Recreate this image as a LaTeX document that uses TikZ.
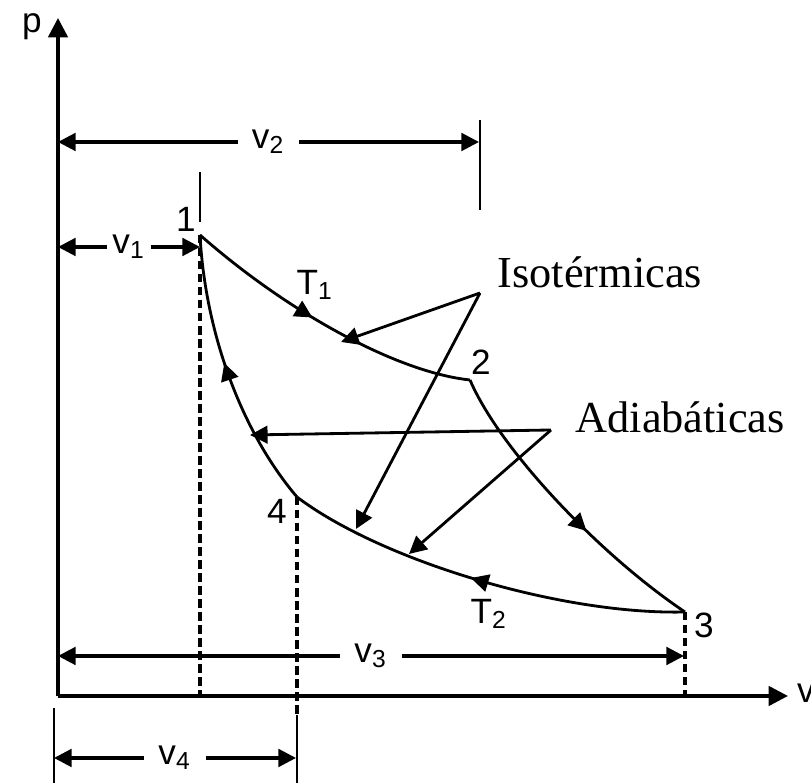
\documentclass[tikz,border=0pt]{standalone}
\usepackage{fontspec}
\setmainfont{Liberation Serif}
\setsansfont{Liberation Sans}
\usetikzlibrary{arrows.meta, decorations.markings}

\begin{document}
\begin{tikzpicture}[x=0.01cm, y=-0.01cm,
  axis/.style={line width=1pt, -{Triangle[length=5.5pt, width=5.5pt]}},
  dimarr/.style={line width=0.9pt,
                 {Triangle[length=5pt, width=5pt]}-{Triangle[length=5pt, width=5pt]}},
  tick/.style={line width=0.85pt},
  guide/.style={line width=0.9pt, dash pattern=on 2.4pt off 1.3pt},
  proc/.style={line width=0.8pt},
  midarrow/.style={postaction={decorate}, decoration={markings,
                   mark=at position #1 with {\arrow{Triangle[length=5pt, width=5pt]}}}},
  ptr/.style={line width=0.8pt, -{Triangle[length=5pt, width=5pt]}},
  lbl/.style={font=\fontsize{10}{11}\sffamily, inner sep=1pt},
  dimlbl/.style={lbl, midway, fill=white, inner xsep=4pt},
  txt/.style={font=\fontsize{12.6}{14}\selectfont, inner sep=0pt}
]
\useasboundingbox (0,0) rectangle (811,783);

%% --- STATES ---
\coordinate (O) at (58,696);
\coordinate (P1) at (200,235);
\coordinate (P2) at (470,380);
\coordinate (P3) at (685,612);
\coordinate (P4) at (297,497);

%% --- AXES ---
\coordinate (ptop) at (58,18);
\coordinate (vend) at (788,696);
\draw[axis] (O) -- (ptop);
\draw[axis] (O) -- (vend);
\node[lbl] (lp) at (32,27) {p};
\node[lbl, anchor=west] (lv) at (793,693) {v};

%% --- CYCLE ---
\draw[proc, midarrow=0.45] (P1) .. controls (285,310) and (395,372) .. (P2);
\draw[proc, midarrow=0.6] (P2) .. controls (500,450) and (600,555) .. (P3);
\draw[proc, midarrow=0.53] (P3) .. controls (560,615) and (380,560) .. (P4);
\draw[proc, midarrow=0.54] (P4) .. controls (240,430) and (205,330) .. (P1);

\node[lbl] (n1) at (186,219) {1};
\node[lbl] (n2) at (481,362) {2};
\node[lbl] (n3) at (704,625) {3};
\node[lbl] (n4) at (277,511) {4};
\node[lbl] (t1) at (315,285) {T\textsubscript{1}};
\node[lbl] (t2) at (489,614) {T\textsubscript{2}};

%% --- GUIDES ---
\coordinate (g1) at (200,696);
\coordinate (g3) at (685,696);
\coordinate (g4) at (297,715);
\coordinate (g4b) at (297,783);
\draw[guide] (P1) -- (g1);
\draw[guide] (P3) -- (g3);
\draw[guide] (P4) -- (g4);
\draw[tick] (g4) -- (g4b);

%% --- DIMENSIONS ---
\coordinate (t1a) at (200,172);
\coordinate (t1b) at (200,222);
\draw[tick] (t1a) -- (t1b);
\coordinate (t2a) at (480,120);
\coordinate (t2b) at (480,210);
\draw[tick] (t2a) -- (t2b);
\coordinate (t4a) at (54,708);
\coordinate (t4b) at (54,783);
\draw[tick] (t4a) -- (t4b);

\coordinate (v1a) at (58,247);
\coordinate (v1b) at (200,247);
\draw[dimarr] (v1a) -- (v1b) node[dimlbl, inner xsep=1.5pt] (lv1) {v\textsubscript{1}};
\coordinate (v2a) at (58,142);
\coordinate (v2b) at (479,142);
\draw[dimarr] (v2a) -- (v2b) node[dimlbl] (lv2) {v\textsubscript{2}};
\coordinate (v3a) at (58,656);
\coordinate (v3b) at (684,656);
\draw[dimarr] (v3a) -- (v3b) node[dimlbl] (lv3) {v\textsubscript{3}};
\coordinate (v4a) at (54,758);
\coordinate (v4b) at (296,758);
\draw[dimarr] (v4a) -- (v4b) node[dimlbl] (lv4) {v\textsubscript{4}};

%% --- POINTERS ---
\node[txt, anchor=base west] (iso) at (497,288) {Isotérmicas};
\node[txt, anchor=base west] (adia) at (575,433) {Adiabáticas};
\coordinate (isoapex) at (480,293);
\coordinate (adiapex) at (551,430);
\coordinate (isoA) at (341,342);
\coordinate (isoB) at (356,529);
\coordinate (adiA) at (250,435);
\coordinate (adiB) at (409,554);
\draw[ptr] (isoapex) -- (isoA);
\draw[ptr] (isoapex) -- (isoB);
\draw[ptr] (adiapex) -- (adiA);
\draw[ptr] (adiapex) -- (adiB);

\end{tikzpicture}
\end{document}
